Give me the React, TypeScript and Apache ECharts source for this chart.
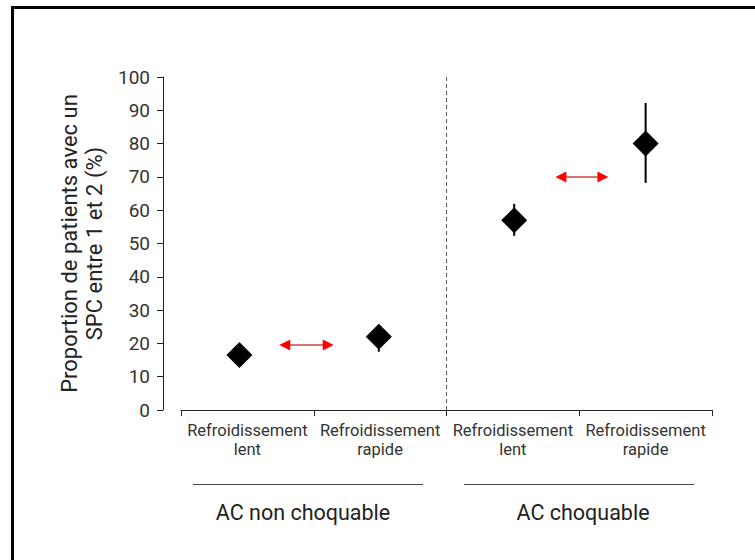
import React, { useEffect, useRef } from "react";
import * as echarts from "echarts";

const categories = [
  "Refroidissement\nlent",
  "Refroidissement\nrapide",
  "Refroidissement\nlent",
  "Refroidissement\nrapide",
];
const groupLabels = ["AC non choquable", "AC choquable"];
// x positions in category units (0..4), values, error bounds
const pointX = [0.44, 1.49, 2.51, 3.5];
const pointValues = [16.5, 22, 57, 80];
const lowValues = [15, 17.5, 52.3, 68.2];
const highValues = [18, 25, 61.9, 92.2];
// arrows: start x, end x, y value
const arrowStart = [0.74, 2.82];
const arrowEnd = [1.15, 3.22];
const arrowY = [19.5, 70];
const yTicks = { min: 0, max: 100, interval: 10 };

const FONT = "Roboto";

export default function App() {
  const ref = useRef<HTMLDivElement>(null);
  useEffect(() => {
    document.body.style.margin = "0";
    const chart = echarts.init(ref.current!, null, { renderer: "svg" });
    const option: any = {
      animation: false,
      backgroundColor: "#fff",
      textStyle: { fontFamily: FONT },
      grid: { left: 181, right: 43, top: 77, bottom: 150 },
      xAxis: [
        {
          type: "category",
          data: categories,
          boundaryGap: true,
          axisLine: { lineStyle: { color: "#222", width: 1 } },
          axisTick: { show: true, length: 6, lineStyle: { color: "#222" } },
          axisLabel: {
            fontFamily: FONT,
            fontSize: 16.5,
            lineHeight: 19,
            color: "#333",
            margin: 11,
            interval: 0,
          },
        },
        { type: "value", min: 0, max: 4, show: false },
      ],
      yAxis: {
        type: "value",
        min: yTicks.min,
        max: yTicks.max,
        interval: yTicks.interval,
        offset: 18,
        name: "Proportion de patients avec un\nSPC entre 1 et 2 (%)",
        nameLocation: "middle",
        nameGap: 40,
        nameTextStyle: { fontFamily: FONT, fontSize: 22, lineHeight: 25, color: "#222" },
        axisLine: { show: true, onZero: false, lineStyle: { color: "#222", width: 1 } },
        axisTick: { show: true, length: 6, lineStyle: { color: "#222" } },
        axisLabel: { fontFamily: FONT, fontSize: 19, color: "#333", margin: 13 },
        splitLine: { show: false },
      },
      series: [
        {
          type: "custom",
          xAxisIndex: 1,
          z: 2,
          renderItem: (params: any, api: any) => {
            const x = api.value(0);
            const p1 = api.coord([x, api.value(1)]);
            const p2 = api.coord([x, api.value(2)]);
            return {
              type: "line",
              shape: { x1: p1[0], y1: p1[1], x2: p2[0], y2: p2[1] },
              style: { stroke: "#000", lineWidth: 2 },
            };
          },
          data: pointX.map((x, i) => [x, lowValues[i], highValues[i]]),
          markLine: {
            silent: true,
            symbol: "none",
            label: { show: false },
            lineStyle: { type: [4, 3], color: "#555", width: 1 },
            data: [{ xAxis: 2 }],
          },
        },
        {
          type: "scatter",
          xAxisIndex: 1,
          z: 3,
          symbol: "diamond",
          symbolSize: 26,
          itemStyle: { color: "#000", opacity: 1 },
          data: pointX.map((x, i) => [x, pointValues[i]]),
        },
        {
          type: "custom",
          xAxisIndex: 1,
          z: 4,
          renderItem: (params: any, api: any) => {
            const y = api.value(2);
            const a = api.coord([api.value(0), y]);
            const b = api.coord([api.value(1), y]);
            const hl = 11;
            const hh = 5.5;
            return {
              type: "group",
              children: [
                {
                  type: "line",
                  shape: { x1: a[0] + hl - 1, y1: a[1], x2: b[0] - hl + 1, y2: b[1] },
                  style: { stroke: "#c84545", lineWidth: 1.5 },
                },
                {
                  type: "polygon",
                  shape: { points: [[a[0], a[1]], [a[0] + hl, a[1] - hh], [a[0] + hl, a[1] + hh]] },
                  style: { fill: "#ff0000" },
                },
                {
                  type: "polygon",
                  shape: { points: [[b[0], b[1]], [b[0] - hl, b[1] - hh], [b[0] - hl, b[1] + hh]] },
                  style: { fill: "#ff0000" },
                },
              ],
            };
          },
          data: arrowStart.map((x, i) => [x, arrowEnd[i], arrowY[i]]),
        },
      ],
      graphic: [
        {
          type: "rect",
          shape: { x: 12.5, y: 7.5, width: 800, height: 600 },
          style: { fill: "none", stroke: "#000", lineWidth: 3 },
          silent: true,
        },
        {
          type: "line",
          shape: { x1: 193, y1: 484.5, x2: 423, y2: 484.5 },
          style: { stroke: "#444", lineWidth: 1 },
        },
        {
          type: "line",
          shape: { x1: 464, y1: 484.5, x2: 694, y2: 484.5 },
          style: { stroke: "#444", lineWidth: 1 },
        },
        {
          type: "text",
          x: 303,
          y: 512,
          style: {
            text: groupLabels[0],
            fontFamily: FONT,
            fontSize: 21.5,
            fill: "#222",
            align: "center",
            verticalAlign: "middle",
          },
        },
        {
          type: "text",
          x: 583,
          y: 512,
          style: {
            text: groupLabels[1],
            fontFamily: FONT,
            fontSize: 21.5,
            fill: "#222",
            align: "center",
            verticalAlign: "middle",
          },
        },
      ],
    };
    chart.setOption(option);
    return () => chart.dispose();
  }, []);
  return <div ref={ref} style={{ width: 755, height: 560 }} />;
}
